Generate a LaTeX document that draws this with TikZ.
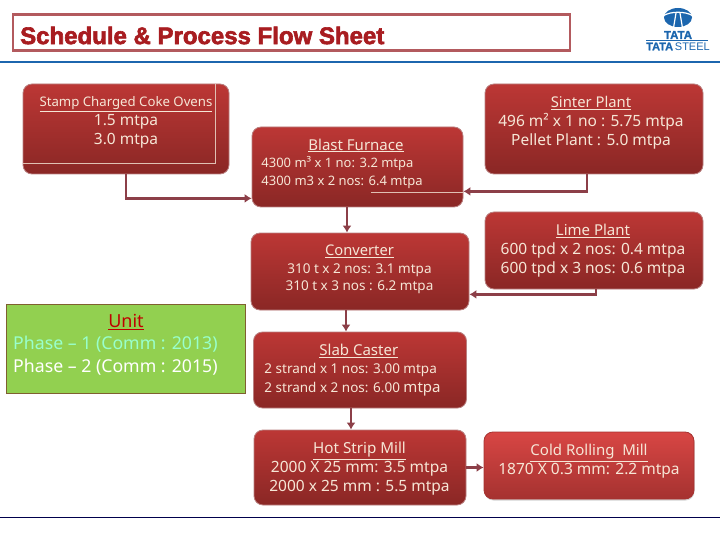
\documentclass[tikz,border=0pt]{standalone}
\usepackage{fontspec}
\setmainfont{Noto Sans}
\newfontfamily\titlefont[BoldFeatures={FakeBold=2.5}]{Liberation Sans}
\newfontfamily\logofont[BoldFeatures={FakeBold=1.5}]{Liberation Sans}
\usetikzlibrary{shadows,arrows.meta}
\definecolor{boxtop}{HTML}{BC3735}
\definecolor{boxbot}{HTML}{8A2725}
\definecolor{coldtop}{HTML}{D84644}
\definecolor{coldbot}{HTML}{A53230}
\definecolor{boxedge}{HTML}{B98080}
\definecolor{boxtext}{HTML}{F6E6D6}
\definecolor{flowcol}{HTML}{8C3F48}
\definecolor{titlecol}{HTML}{A81C20}
\definecolor{titleedge}{HTML}{B35A5E}
\definecolor{tatablue}{HTML}{1C66AE}
\definecolor{unitfill}{HTML}{92D050}
\definecolor{unitedge}{HTML}{7F6030}
\definecolor{unithead}{HTML}{C00000}
\definecolor{phaseone}{HTML}{99FFCC}
\tikzset{
  plant/.style={rectangle, rounded corners=9pt, draw=boxedge, line width=0.8pt,
    top color=boxtop, bottom color=boxbot},
  plantText/.style={text=boxtext, align=center, inner sep=0pt, font=\fontsize{15.5}{19}\selectfont},
  flow/.style={draw=flowcol, line width=2.5pt, -{Latex[length=7pt,width=9pt]}},
  thinline/.style={draw=boxtext!80!boxbot, line width=0.6pt},
}
\begin{document}
\begin{tikzpicture}[x=1pt,y=-1pt]
  \useasboundingbox (0,0) rectangle (720,540);
  % Header
  \node[draw=titleedge, line width=2.4pt, minimum width=557pt, minimum height=36pt, inner sep=0pt] (titlebox) at (291.5,32.5) {};
  \node[text=titlecol, inner sep=0pt, anchor=west, font=\titlefont\bfseries\fontsize{24}{26}\selectfont] (title) at (20,35.5) {Schedule \& Process Flow Sheet};
  \coordinate (ruleL) at (0,62);
  \coordinate (ruleR) at (720,62);
  \draw[tatablue, line width=1.2pt] (ruleL) -- (ruleR);
  % Logo
  \fill[tatablue] (678,17.5) ellipse [x radius=14, y radius=9.5];
  \draw[white, line width=1.2pt] (663,16) .. controls (670,11) and (686,11) .. (693,16);
  \draw[white, line width=1.2pt] (676,13) -- (673.5,28);
  \draw[white, line width=1.2pt] (680,13) -- (682.5,28);
  \node[text=tatablue, inner sep=0pt, font=\logofont\bfseries\fontsize{11.5}{12}\selectfont] (logoTop) at (678,35) {TATA};
  \coordinate (logoL) at (646,40.5);
  \coordinate (logoR) at (708,40.5);
  \draw[tatablue, line width=0.5pt] (logoL) -- (logoR);
  \node[text=tatablue, inner sep=0pt, anchor=west, font=\logofont\fontsize{11}{12}\selectfont] (logoBot) at (646,46.5) {\textbf{TATA}\,STEEL};
  % Coke ovens
  \node[plant, minimum width=206pt, minimum height=90pt] (coke) at (126,129) {};
  \node[plantText] (cokeText) at (126,122.5) {{\fontsize{13.2}{14}\selectfont\underline{Stamp Charged Coke Ovens}}\\1.5 mtpa\\3.0 mtpa};
  \coordinate (cokeA) at (215.5,84);
  \coordinate (cokeB) at (215.5,163.5);
  \coordinate (cokeC) at (23,163.5);
  \draw[thinline] (cokeA) -- (cokeB) -- (cokeC);
  % Sinter
  \node[plant, minimum width=218pt, minimum height=90pt] (sinter) at (594,129) {};
  \node[plantText] (sinterText) at (591,122.5) {{\fontsize{14.8}{17}\selectfont\underline{Sinter Plant}}\\496 m² x 1 no : 5.75 mtpa\\Pellet Plant : 5.0 mtpa};
  % Blast furnace
  \node[plant, minimum width=211pt, minimum height=80pt] (blast) at (357.5,167) {};
  \node[plantText, align=left, font=\fontsize{13}{17.5}\selectfont] (blastText) at (342,163.5) {\hspace*{47pt}{\fontsize{15}{17}\selectfont\underline{Blast Furnace}}\\4300 m³ x 1 no: 3.2 mtpa\\4300 m3 x 2 nos: 6.4 mtpa};
  \coordinate (blastA) at (371,192);
  \coordinate (blastB) at (463,192);
  \draw[thinline] (blastA) -- (blastB);
  % Lime
  \node[plant, minimum width=218pt, minimum height=77pt] (lime) at (594,250.5) {};
  \node[plantText] (limeText) at (593,250.5) {{\fontsize{15}{17}\selectfont\underline{Lime Plant}}\\600 tpd x 2 nos: 0.4 mtpa\\600 tpd x 3 nos: 0.6 mtpa};
  % Converter
  \node[plant, minimum width=218pt, minimum height=77pt] (conv) at (360,271.5) {};
  \node[plantText, font=\fontsize{13.5}{17.5}\selectfont] (convText) at (359.5,269.5) {{\fontsize{14.7}{17}\selectfont\underline{Converter}}\\310 t x 2 nos: 3.1 mtpa\\310 t x 3 nos : 6.2 mtpa};
  % Unit
  \node[draw=unitedge, fill=unitfill, line width=0.6pt, minimum width=239pt, minimum height=89pt, inner sep=0pt] (unit) at (126,348.5) {};
  \node[text=unithead, inner sep=0pt, font=\fontsize{18}{20}\selectfont] (unitHead) at (126,322) {\underline{Unit}};
  \node[text=phaseone, inner sep=0pt, anchor=west, font=\fontsize{17.7}{20}\selectfont] (phaseA) at (13,344.5) {Phase – 1 (Comm : 2013)};
  \node[text=white, inner sep=0pt, anchor=west, font=\fontsize{17.7}{20}\selectfont] (phaseB) at (13,367) {Phase – 2 (Comm : 2015)};
  % Slab caster
  \node[plant, minimum width=213pt, minimum height=76pt] (slab) at (360,370) {};
  \node[plantText, font=\fontsize{13.5}{18.5}\selectfont, align=left] (slabText) at (352.5,370) {\hspace*{55pt}{\fontsize{15}{17}\selectfont\underline{Slab Caster}}\\2 strand x 1 nos: 3.00 mtpa\\2 strand x 2 nos: 6.00 {\fontsize{15}{17}\selectfont mtpa}};
  % Hot strip mill
  \node[plant, minimum width=212pt, minimum height=75pt] (hot) at (360,467.5) {};
  \node[plantText] (hotText) at (359.5,469) {{\fontsize{15.2}{17}\selectfont\underline{Hot Strip Mill}}\\2000 X 25 mm: 3.5 mtpa\\2000 x 25 mm : 5.5 mtpa};
  % Cold rolling mill
  \node[plant, draw=coldbot, top color=coldtop, bottom color=coldbot, drop shadow={shadow xshift=0.5pt, shadow yshift=-1.5pt, opacity=0.35}, minimum width=210pt, minimum height=67pt] (cold) at (589,465.5) {};
  \node[plantText] (coldText) at (589,461.5) {{\fontsize{15}{17}\selectfont\underline{Cold Rolling\ \ Mill}}\\1870 X 0.3 mm: 2.2 mtpa};
  % Bottom rule
  \coordinate (footL) at (0,517);
  \coordinate (footR) at (720,517);
  \draw[blue!30!black, line width=0.8pt] (footL) -- (footR);
  % Flow
  \draw[flow] (coke.south) |- ([yshift=9pt]blast.south west);
  \draw[flow] ([xshift=-7pt]sinter.south) |- ([yshift=16pt]blast.south east);
  \draw[flow] ([xshift=2pt]lime.south) |- ([yshift=16pt]conv.south east);
  \draw[flow] ([xshift=-10.5pt]blast.south) -- ([xshift=-13pt]conv.north);
  \draw[flow] ([xshift=-14pt]conv.south) -- ([xshift=-14pt]slab.north);
  \draw[flow] ([xshift=-9pt]slab.south) -- ([xshift=-9pt]hot.north);
  \draw[flow] (hot.east) -- (hot.east -| cold.west);
\end{tikzpicture}
\end{document}
